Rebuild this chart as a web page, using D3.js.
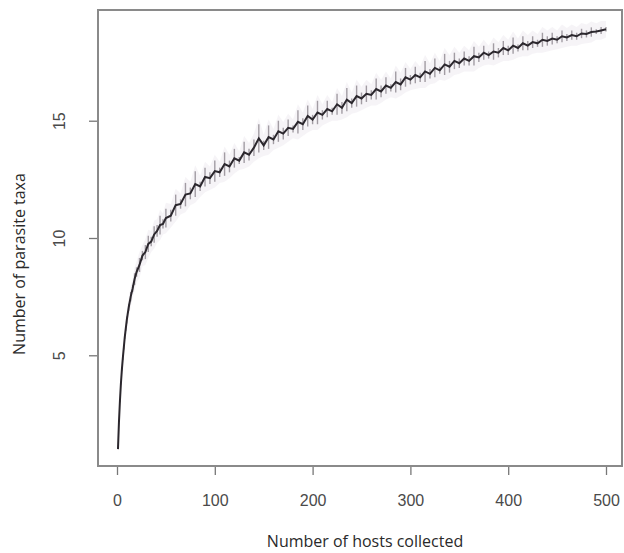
<!DOCTYPE html>
<html>
<head>
<meta charset="utf-8">
<script src="https://cdn.jsdelivr.net/npm/d3@7"></script>
<style>
  body { margin: 0; background: #fff; }
  svg { display: block; }
  .tick text { font-family: "Liberation Sans", Arial, sans-serif; font-size: 16px; fill: #4a4a4a; }
  .title { font-family: "Open Sans", "Liberation Sans", sans-serif; font-size: 16px; fill: #2a2a2a; }
</style>
</head>
<body>
<div id="chart"></div>
<script>
// sample sizes (number of hosts collected)
var hosts = [1, 2, 3, 4, 5, 6, 7, 8, 9, 10, 12, 14, 16, 18, 20, 23, 26, 29, 32, 35, 38, 41, 44, 47, 50,
  55, 60, 65, 70, 75, 80, 85, 90, 95, 100, 105, 110, 115, 120, 125, 130, 135, 140, 145, 150,
  155, 160, 165, 170, 175, 180, 185, 190, 195, 200, 205, 210, 215, 220, 225, 230, 235, 240, 245, 250,
  255, 260, 265, 270, 275, 280, 285, 290, 295, 300, 305, 310, 315, 320, 325, 330, 335, 340, 345, 350,
  355, 360, 365, 370, 375, 380, 385, 390, 395, 400, 405, 410, 415, 420, 425, 430, 435, 440, 445, 450,
  455, 460, 465, 470, 475, 480, 485, 490, 495, 500];

// mean number of parasite taxa found
var taxa = [1.00, 2.15, 3.05, 3.80, 4.40, 4.90, 5.35, 5.80, 6.15, 6.50, 7.05, 7.50, 7.85, 8.25, 8.55, 8.85, 9.25, 9.40, 9.75, 9.85, 10.15, 10.30, 10.55, 10.60, 10.85,
  10.95, 11.40, 11.45, 11.85, 11.90, 12.30, 12.20, 12.60, 12.55, 12.85, 12.80, 13.15, 13.05, 13.40, 13.30, 13.65, 13.55, 13.85, 14.25, 13.95,
  14.30, 14.20, 14.55, 14.45, 14.70, 14.65, 14.95, 14.85, 15.20, 15.05, 15.35, 15.25, 15.50, 15.40, 15.70, 15.55, 15.90, 15.75, 16.05, 15.95,
  16.15, 16.10, 16.35, 16.25, 16.50, 16.40, 16.65, 16.55, 16.85, 16.75, 16.95, 16.85, 17.10, 17.00, 17.25, 17.15, 17.40, 17.30, 17.55, 17.45,
  17.65, 17.55, 17.75, 17.70, 17.90, 17.80, 17.95, 17.90, 18.10, 18.00, 18.20, 18.10, 18.30, 18.20, 18.35, 18.30, 18.45, 18.40, 18.50, 18.45,
  18.60, 18.55, 18.65, 18.60, 18.72, 18.70, 18.78, 18.80, 18.85, 18.90];

// half-width of the spread around each mean
var spread = [0, 0, 0.05, 0.05, 0.05, 0.1, 0.1, 0.1, 0.1, 0.15, 0.15, 0.2, 0.15, 0.25, 0.2, 0.3, 0.2, 0.3, 0.35, 0.2, 0.35, 0.25, 0.4, 0.2, 0.4,
  0.25, 0.45, 0.2, 0.5, 0.25, 0.55, 0.2, 0.4, 0.25, 0.45, 0.2, 0.5, 0.25, 0.4, 0.15, 0.45, 0.25, 0.35, 0.6, 0.2,
  0.5, 0.2, 0.45, 0.25, 0.35, 0.15, 0.5, 0.25, 0.45, 0.2, 0.5, 0.2, 0.35, 0.15, 0.45, 0.25, 0.5, 0.2, 0.45, 0.25,
  0.35, 0.2, 0.45, 0.25, 0.35, 0.15, 0.45, 0.25, 0.4, 0.2, 0.35, 0.2, 0.45, 0.2, 0.4, 0.15, 0.45, 0.25, 0.35, 0.2,
  0.3, 0.2, 0.4, 0.2, 0.3, 0.15, 0.35, 0.2, 0.3, 0.2, 0.35, 0.15, 0.3, 0.2, 0.25, 0.15, 0.3, 0.2, 0.25, 0.15,
  0.25, 0.15, 0.2, 0.15, 0.2, 0.15, 0.2, 0.1, 0.15, 0.1];

var xTicks = [0, 100, 200, 300, 400, 500];
var yTicks = [5, 10, 15];

var W = 624, H = 553;
var box = {left: 98, top: 10, right: 622, bottom: 466};

var svg = d3.select("#chart").append("svg")
  .attr("width", W).attr("height", H);

var x = d3.scaleLinear().domain([0, 500]).range([117, 606]);
var y = d3.scaleLinear().domain([0.28, 19.72]).range([box.bottom, box.top]);

var data = hosts.map(function (h, i) { return {h: h, t: taxa[i], s: spread[i]}; });

// light haze around the curve
svg.append("path")
  .datum(data)
  .attr("d", d3.area()
    .x(function (d) { return x(d.h); })
    .y0(function (d) { return y(d.t - d.s - 0.25); })
    .y1(function (d) { return y(d.t + d.s + 0.25); }))
  .attr("fill", "#ddd3df")
  .attr("opacity", 0.25);

// vertical spread whiskers
svg.append("g")
  .selectAll("line")
  .data(data)
  .enter().append("line")
    .attr("x1", function (d) { return x(d.h); })
    .attr("x2", function (d) { return x(d.h); })
    .attr("y1", function (d) { return y(d.t - d.s); })
    .attr("y2", function (d) { return y(d.t + d.s); })
    .attr("stroke", "#5e5660")
    .attr("stroke-width", 1.4)
    .attr("opacity", 0.55);

// mean curve
svg.append("path")
  .datum(data)
  .attr("d", d3.line()
    .x(function (d) { return x(d.h); })
    .y(function (d) { return y(d.t); }))
  .attr("fill", "none")
  .attr("stroke", "#2b272d")
  .attr("stroke-width", 2);

// frame
svg.append("rect")
  .attr("x", box.left).attr("y", box.top)
  .attr("width", box.right - box.left).attr("height", box.bottom - box.top)
  .attr("fill", "none").attr("stroke", "#8a8a8a").attr("stroke-width", 2);

// x axis
var gx = svg.append("g")
  .attr("transform", "translate(0," + (box.bottom + 1) + ")")
  .call(d3.axisBottom(x).tickValues(xTicks).tickSize(8).tickPadding(20));
gx.select(".domain").remove();
gx.selectAll(".tick line").attr("stroke", "#777").attr("stroke-width", 1.3);

// y axis, labels rotated like R
var gy = svg.append("g")
  .attr("transform", "translate(" + (box.left - 1) + ",0)")
  .call(d3.axisLeft(y).tickValues(yTicks).tickSize(8));
gy.select(".domain").remove();
gy.selectAll(".tick line").attr("stroke", "#777").attr("stroke-width", 1.3);
gy.selectAll(".tick text")
  .attr("x", null).attr("dy", null)
  .attr("text-anchor", "middle")
  .attr("transform", "translate(-32,0) rotate(-90)");

// axis titles
svg.append("text")
  .attr("class", "title")
  .attr("x", 365).attr("y", 547)
  .attr("text-anchor", "middle")
  .text("Number of hosts collected");

svg.append("text")
  .attr("class", "title")
  .attr("transform", "translate(25,264) rotate(-90)")
  .attr("text-anchor", "middle")
  .text("Number of parasite taxa");
</script>
</body>
</html>
